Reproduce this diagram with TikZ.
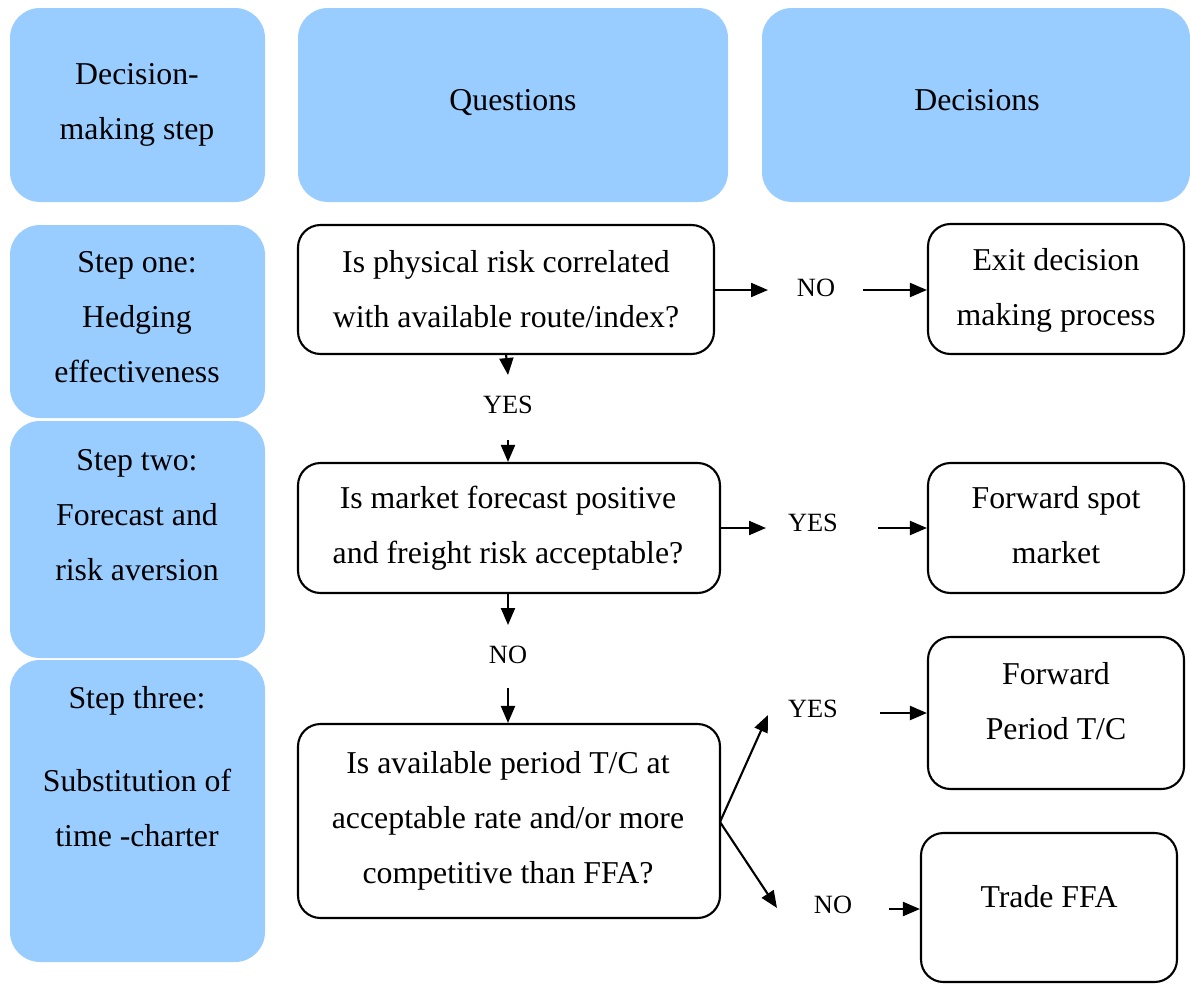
\documentclass[tikz,border=0pt]{standalone}
\usepackage{fontspec}
\setmainfont{Liberation Serif}
\usetikzlibrary{arrows.meta,fit}
\definecolor{headblue}{HTML}{99CCFF}
\begin{document}
\begin{tikzpicture}[x=0.02cm,y=-0.02cm,
  bluebox/.style={fill=headblue,draw=none,rounded corners=0.6cm,inner sep=0pt},
  qbox/.style={draw=black,line width=1.2pt,fill=white,rounded corners=0.45cm,inner sep=0pt},
  txt/.style={align=center,inner sep=0pt,font=\fontsize{18.1}{31.3}\selectfont},
  lbl/.style={inner sep=0pt,font=\fontsize{15}{18}\selectfont},
  arr/.style={line width=1.2pt,-{Triangle[length=0.34cm,width=0.28cm]}}]
\useasboundingbox (0,0) rectangle (1190,984);

% header row
\node[bluebox,fit={(10,8) (265,202)}] (hstep) {};
\node[bluebox,fit={(298,8) (728,202)}] (hq) {};
\node[bluebox,fit={(762,8) (1190,202)}] (hd) {};
\node[txt] (thstep) at (137,105) {Decision-\\making step};
\node[txt] (thq) at (513,103) {Questions};
\node[txt] (thd) at (977,100) {Decisions};

% step column
\node[bluebox,fit={(10,225) (265,418)}] (s1) {};
\node[bluebox,fit={(10,421) (265,658)}] (s2) {};
\node[bluebox,fit={(10,660) (265,962)}] (s3) {};
\node[txt] (ts1) at (137,317) {Step one:\\Hedging\\effectiveness};
\node[txt] (ts2) at (137,515) {Step two:\\Forecast and\\risk aversion};
\node[txt] (ts3a) at (137,701) {Step three:};
\node[txt] (ts3b) at (137,808) {Substitution of\\time -charter};

% question boxes
\node[qbox,fit={(298,225) (714,354)}] (q1) {};
\node[qbox,fit={(298,463) (720,593)}] (q2) {};
\node[qbox,fit={(298,724) (720,918)}] (q3) {};
\node[txt] (tq1) at (506,289) {Is physical risk correlated\\with available route/index?};
\node[txt] (tq2) at (508,528) {Is market forecast positive\\and freight risk acceptable?};
\node[txt] (tq3) at (508,821) {Is available period T/C at\\acceptable rate and/or more\\competitive than FFA?};

% decision boxes
\node[qbox,fit={(928,224) (1184,354)}] (d1) {};
\node[qbox,fit={(928,463) (1184,593)}] (d2) {};
\node[qbox,fit={(928,637) (1184,789)}] (d3) {};
\node[qbox,fit={(921,833) (1177,982)}] (d4) {};
\node[txt] (td1) at (1056,290) {Exit decision\\making process};
\node[txt] (td2) at (1056,525) {Forward spot\\market};
\node[txt] (td3) at (1056,701) {Forward\\Period T/C};
\node[txt] (td4) at (1049,897) {Trade FFA};

% branch labels
\node[lbl] (no1) at (816,288) {NO};
\node[lbl] (yes1) at (508,405) {YES};
\node[lbl] (yes2) at (813,523) {YES};
\node[lbl] (no2) at (508,655) {NO};
\node[lbl] (yes3) at (813,709) {YES};
\node[lbl] (no3) at (833,905) {NO};

% connector ends
\coordinate (a1) at (768,290);
\coordinate (b1) at (863,290);
\coordinate (a2) at (508,375);
\coordinate (b2) at (508,440);
\coordinate (a3) at (766,528);
\coordinate (b3) at (878,528);
\coordinate (a4) at (508,625);
\coordinate (b4) at (508,688);
\coordinate (split) at (720,822);
\coordinate (a5) at (768,715);
\coordinate (b5) at (880,713);
\coordinate (a6) at (777,908);
\coordinate (b6) at (889,909);

% connectors
\draw[arr] (q1.east |- a1) -- (a1);
\draw[arr] (b1) -- (d1.west |- b1);
\draw[arr] (q1.south |- 0,354) -- (a2);
\draw[arr] (b2) -- (q2.north -| b2);
\draw[arr] (q2.east |- a3) -- (a3);
\draw[arr] (b3) -- (d2.west |- b3);
\draw[arr] (a4 |- q2.south) -- (a4);
\draw[arr] (b4) -- (q3.north -| b4);
\draw[arr] (split) -- (a5);
\draw[arr] (b5) -- (d3.west |- b5);
\draw[arr] (split) -- (a6);
\draw[arr] (b6) -- (d4.west |- b6);
\end{tikzpicture}
\end{document}
